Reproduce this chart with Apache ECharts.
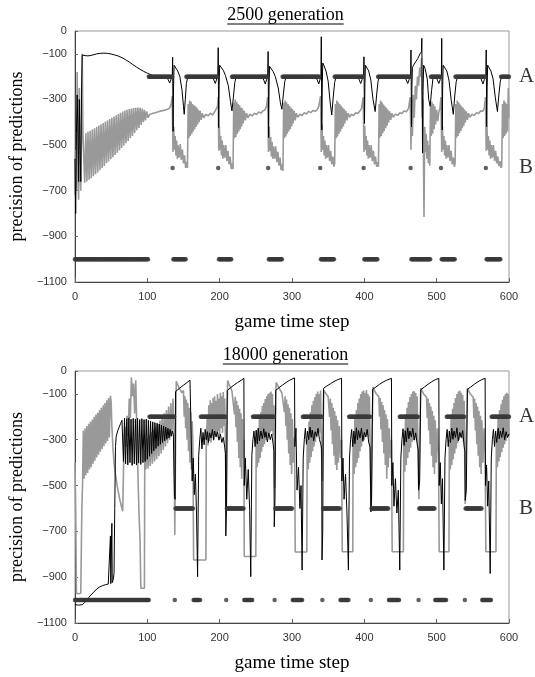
<!DOCTYPE html>
<html><head><meta charset="utf-8">
<script src="https://cdn.jsdelivr.net/npm/echarts@6/dist/echarts.min.js"></script>
<style>html,body{margin:0;padding:0;background:#fff}#c{width:535px;height:677px}</style>
</head><body><div id="c"></div>
<script>
// ---------------- DATA ----------------
const xTicks = [0, 100, 200, 300, 400, 500, 600];
const yTicks = [-1100, -900, -700, -500, -300, -100, 0];
const titles = ['2500 generation', '18000 generation'];
const xName = 'game time step';
const yName = 'precision of predictions';
const stateLevels = { A: -200, B: -600, C: -1000 };
const stateNames = [['A', -200], ['B', -600]];

// 2500 generation : black (thin) line [time step, value]
const blackTop = [
[0,-560],[1,-800],[2,-450],[3,-280],[4,-420],[5,-660],[6,-300],[7,-520],[8,-660],[9,-280],[10,-105],
[14,-108],[18,-109],[22,-107],[26,-104],[30,-100],[35,-98],[40,-97],[45,-98],[50,-101],[55,-105],[60,-110],[65,-117],[70,-126],[75,-136],[80,-147],[85,-158],[90,-168],[95,-177],[100,-185],[105,-192],[110,-198],[113,-200],
[127,-200],[129,-215],[131,-228],[133,-210],[134.5,-200],[135,-115],[135.6,-440],[136.2,-250],[137,-150],[139,-155],[142,-175],[145,-200],[148,-260],[150,-330],[151,-365],[152.5,-300],[154,-230],[156,-200],
[190,-200],[192,-215],[194,-230],[196,-210],[197.5,-200],[198,-73],[198.7,-423],[199.3,-240],[200,-150],[202,-155],[205,-172],[208,-195],[212,-240],[215,-310],[217,-350],[219,-290],[221,-225],[223,-200],
[259,-200],[261,-215],[263,-232],[265,-212],[266.5,-200],[267,-90],[267.7,-467],[268.3,-250],[269,-155],[271,-160],[274,-178],[277,-200],[281,-250],[284,-315],[286,-343],[288,-280],[290,-222],[292,-200],
[333,-200],[335,-215],[337,-232],[339,-210],[340,-200],[340.5,-25],[341.2,-434],[341.8,-250],[342.5,-140],[344,-150],[347,-175],[350,-220],[353,-320],[355,-368],[357,-290],[359,-225],[361,-200],
[391,-200],[393,-215],[395,-230],[397,-212],[399,-200],[399.5,-113],[400.2,-405],[400.8,-240],[401.5,-150],[403,-155],[406,-175],[409,-215],[412,-300],[415,-353],[417,-280],[419,-220],[421,-200],
[456,-200],[458,-215],[460,-230],[462,-212],[464,-200],[464.5,-83],[465.2,-420],[465.8,-240],[466.5,-160],[468,-150],[471,-135],[474,-120],[477,-100],[479,-90],[479.5,-32],[480.5,-535],[481.2,-260],[482,-150],[484,-165],[487,-210],[489,-300],[491,-330],[493,-260],[495,-205],[497,-200],
[499,-200],[501,-215],[503,-230],[505,-212],[506.5,-200],[507,-32],[507.7,-434],[508.3,-250],[509,-150],[511,-155],[514,-175],[517,-215],[520,-300],[523,-365],[525,-285],[527,-222],[529,-200],
[560,-200],[562,-215],[564,-232],[566,-212],[568,-200],[568.5,-83],[569.2,-419],[569.8,-245],[570.5,-150],[572,-155],[575,-175],[578,-210],[581,-290],[584,-353],[586,-280],[588,-220],[590,-200],[600,-200]
];

// 2500 generation : grey (thick) line
const grayTop = [
[0,-720],[1,-520],[2,-700],[3,-180],[4,-600],[5,-740],[6,-250],[7,-600],[8,-700],[9,-450],[10,-100],[11,-450],
[12,-455],[13.5,-665],[15,-448],[16.5,-660],[18,-442],[19.5,-652],[21,-437],[22.5,-645],[24,-432],[25.5,-636],[27,-426],[28.5,-628],[30,-420],[31.5,-620],[33,-414],[34.5,-610],[36,-409],[37.5,-600],[39,-403],[40.5,-591],[42,-398],[43.5,-580],[45,-392],[46.5,-572],[48,-386],[49.5,-562],[51,-380],[52.5,-553],[54,-375],[55.5,-543],[57,-369],[58.5,-533],[60,-364],[61.5,-523],[63,-358],[64.5,-513],[66,-353],[67.5,-503],[69,-348],[70.5,-492],[72,-345],[73.5,-482],[75,-342],[76.5,-470],[78,-340],[79.5,-460],[81,-338],[82.5,-447],[84,-336],[85.5,-435],[87,-335],[88.5,-425],[90,-336],[91.5,-412],[93,-340],[94.5,-400],[96,-345],[97.5,-392],[99,-352],
[101,-380],[103,-366],[105,-374],[107,-362],[109,-370],[111,-358],[113,-366],[115,-354],[117,-360],[119,-350],[121,-356],[123,-348],[125,-352],[127,-344],[129,-348],[131,-338],[133,-320],[134.5,-285],
[135.5,-530],[136.5,-420],[137.5,-520],[138.5,-460],[139.5,-545],[140.5,-480],[141.5,-560],[142.5,-500],[144,-555],[145.5,-495],[147,-565],[148.5,-520],[150,-580],[151.5,-545],[153,-600],[154.5,-575],[155.5,-600],[156.5,-320],[157.5,-470],[158.5,-305],[159.5,-460],[160.5,-310],[161.5,-450],[162.5,-320],[163.5,-440],[164.5,-325],[165.5,-430],[166.5,-330],[167.5,-420],[168.5,-335],[169.5,-410],[170.5,-345],[171.5,-400],[173,-350],[174.5,-390],[176,-360],[178,-380],[181,-365],[184,-372],[187,-360],[190,-368],[193,-355],[195,-350],[197,-330],[198,-290],
[198.8,-525],[199.6,-420],[200.5,-520],[201.5,-460],[202.5,-545],[203.5,-480],[204.5,-560],[205.5,-500],[207,-555],[208.5,-500],[210,-570],[211.5,-525],[213,-585],[214.5,-550],[216,-605],[217.5,-580],[218.5,-605],[219.5,-315],[220.5,-470],[221.5,-300],[222.5,-465],[223.5,-310],[224.5,-450],[225.5,-320],[226.5,-440],[227.5,-325],[228.5,-430],[229.5,-335],[230.5,-418],[231.5,-340],[232.5,-405],[234,-350],[235.5,-392],[237,-360],[239,-380],[242,-365],[245,-372],[248,-360],[251,-366],[254,-355],[257,-360],[260,-350],[263,-345],[265,-325],[266.5,-290],
[267.5,-530],[268.5,-420],[269.5,-525],[270.5,-465],[271.5,-550],[272.5,-485],[273.5,-560],[274.5,-505],[276,-560],[277.5,-505],[279,-575],[280.5,-530],[282,-590],[283.5,-555],[285,-610],[286.5,-585],[287.5,-613],[288.5,-315],[289.5,-470],[290.5,-305],[291.5,-462],[292.5,-312],[293.5,-450],[294.5,-320],[295.5,-440],[296.5,-328],[297.5,-430],[298.5,-335],[299.5,-418],[300.5,-342],[301.5,-405],[303,-350],[304.5,-392],[306,-360],[308,-378],[311,-365],[314,-370],[317,-358],[320,-364],[323,-352],[326,-358],[329,-348],[332,-352],[335,-345],[337,-330],[339.5,-285],
[340.5,-530],[341.5,-410],[342.5,-520],[343.5,-460],[344.5,-545],[345.5,-480],[346.5,-560],[347.5,-500],[349,-555],[350.5,-500],[352,-570],[353.5,-525],[355,-585],[356.5,-550],[358,-595],[359,-580],[360,-320],[361,-470],[362,-305],[363,-462],[364,-312],[365,-450],[366,-320],[367,-440],[368,-328],[369,-428],[370,-335],[371,-418],[372,-342],[373,-405],[374.5,-350],[376,-392],[377.5,-360],[379.5,-378],[382,-365],[385,-370],[388,-358],[391,-362],[394,-350],[396,-340],[398.5,-290],
[399.5,-530],[400.5,-415],[401.5,-520],[402.5,-460],[403.5,-545],[404.5,-480],[405.5,-560],[406.5,-500],[408,-555],[409.5,-500],[411,-570],[412.5,-525],[414,-585],[415.5,-550],[417,-595],[418.5,-575],[419.5,-595],[420.5,-320],[421.5,-468],[422.5,-305],[423.5,-460],[424.5,-312],[425.5,-448],[426.5,-322],[427.5,-438],[428.5,-330],[429.5,-426],[430.5,-336],[431.5,-415],[432.5,-344],[433.5,-402],[435,-352],[436.5,-390],[438,-360],[440,-378],[443,-364],[446,-370],[449,-358],[452,-362],[455,-350],[458,-354],[461,-340],[463.5,-290],
[464.5,-520],[465.5,-300],[466.5,-460],[467.5,-280],[469,-380],[470.5,-240],[472,-300],[473.5,-200],[475,-240],[476.5,-160],[478,-200],[479,-120],[480,-380],[481,-300],[482.5,-815],[483.5,-420],[484.5,-530],[485.5,-450],[486.5,-560],[487.5,-480],[488.5,-580],[489.5,-500],[490.5,-590],[491.5,-330],[492.5,-460],[493.5,-310],[494.5,-450],[495.5,-320],[496.5,-430],[497.5,-330],[498.5,-410],[500,-345],[501.5,-395],[503,-355],[504.5,-340],[506,-290],
[507,-530],[508,-420],[509,-520],[510,-460],[511,-545],[512,-480],[513,-560],[514,-500],[515.5,-555],[517,-500],[518.5,-570],[520,-525],[521.5,-585],[523,-555],[524.5,-595],[525.5,-580],[526.5,-320],[527.5,-468],[528.5,-305],[529.5,-460],[530.5,-312],[531.5,-448],[532.5,-322],[533.5,-438],[534.5,-330],[535.5,-426],[536.5,-336],[537.5,-415],[538.5,-344],[539.5,-402],[541,-352],[542.5,-390],[544,-360],[546,-378],[549,-364],[552,-370],[555,-358],[558,-362],[561,-350],[564,-352],[566,-335],[567.5,-290],
[568.5,-525],[569.5,-415],[570.5,-520],[571.5,-460],[572.5,-545],[573.5,-480],[574.5,-560],[575.5,-500],[577,-555],[578.5,-500],[580,-570],[581.5,-525],[583,-580],[584.5,-550],[586,-592],[587.5,-570],[589,-600],[590,-590],[591,-320],[592,-470],[593,-305],[594,-460],[595,-312],[596,-450],[597,-320],[598,-440],[599,-250],[600,-380]
];

// 2500 generation : state dots as runs [first step, last step, state]
const runsTop = [
[0,101,'C'],[102,134,'A'],[135,135,'B'],[136,153,'C'],[154,197,'A'],[198,198,'B'],[199,216,'C'],[217,266,'A'],[267,267,'B'],[268,286,'C'],
[287,338,'A'],[339,339,'B'],[340,358,'C'],[359,398,'A'],[399,399,'B'],[400,418,'C'],[419,463,'A'],[464,464,'B'],[465,491,'C'],[492,505,'A'],
[506,506,'B'],[507,525,'C'],[526,567,'A'],[568,568,'B'],[569,588,'C'],[589,600,'A']
];

// 18000 generation : black (thin) line
const blackBot = [
[0,-1020],[5,-1022],[10,-1020],[13,-1012],[16,-1000],[19,-988],[22,-978],[26,-965],[30,-952],[34,-943],[38,-937],[42,-933],[46,-930],[48.5,-928],[49,-720],[49.5,-928],[50.5,-926],[51,-665],[51.5,-924],[53,-910],[54,-880],[55,-600],[56,-330],[57,-285],[59,-262],[61,-245],[63,-230],[65,-215],[66,-208],
[67,-395],[68.5,-206],[70,-405],[71.5,-208],[73,-410],[74.5,-205],[76,-400],[77.5,-210],[79,-412],[80.5,-207],[82,-405],[83.5,-210],[85,-410],[86.5,-206],[88,-402],[89.5,-212],[91,-408],[92.5,-208],[94,-400],[95.5,-212],[97,-395],[98.5,-210],[100,-385],[101.5,-215],[103,-372],[104.5,-218],[106,-360],[107.5,-222],[109,-348],[110.5,-225],[112,-338],[113.5,-228],[115,-328],[116.5,-232],[118,-320],[119.5,-236],[121,-312],[122.5,-240],[124,-305],[125.5,-245],[127,-298],[128.5,-250],[130,-292],[131.5,-255],[133,-285],[134.5,-262],[136,-278],[137,-272],
[137.5,-548],[138.5,-560],[139,-90],[141,-84],[145,-74],[150,-62],[155,-50],[159,-40],[161.5,-32],[162,-480],[163.5,-380],[165,-540],[166.5,-450],[168,-620],[169.5,-898],[171,-370],[172.5,-300],
[174,-250],[175.5,-340],[177,-268],[178.5,-322],[180,-255],[181.5,-300],[183,-265],[184.5,-312],[186,-270],[188,-292],[190,-255],[191.5,-302],[193,-262],[195,-287],[197,-265],[199,-302],[201,-276],[203,-312],[205,-290],[207,-332],[208,-360],
[208.5,-720],[209.5,-600],[210.5,-85],[215,-73],[220,-61],[225,-50],[230,-40],[233.5,-32],[234,-500],[235.5,-380],[237.5,-560],[239.5,-430],[241.5,-610],[243,-898],[244.5,-370],[246,-300],
[247.5,-262],[249,-330],[250.5,-258],[252,-318],[253.5,-250],[255,-305],[257,-262],[259,-296],[261,-252],[262.5,-290],[264,-265],[266,-310],[268,-270],[270,-300],[272,-275],[274,-320],[275,-350],
[275.5,-680],[276.5,-560],[277.5,-85],[282,-73],[287,-61],[292,-50],[297,-40],[303.5,-30],[304,-330],[305.5,-250],[307,-520],[309,-420],[311,-600],[312.5,-500],[314,-869],[315.5,-380],[317,-300],
[318.5,-250],[320,-320],[321.5,-262],[323,-300],[325,-245],[326.5,-290],[328,-258],[330,-305],[332,-265],[334,-285],[336,-250],[338,-300],[340,-320],[341,-340],
[341.5,-825],[342.5,-700],[343.5,-76],[348,-66],[353,-56],[358,-46],[363,-38],[368.5,-32],[369,-480],[370.5,-380],[372,-560],[374,-450],[376,-620],[378,-869],[379.5,-380],[381,-300],
[382.5,-255],[384,-330],[385.5,-262],[387,-318],[389,-248],[390.5,-300],[392,-260],[394,-292],[396,-250],[398,-305],[400,-268],[402,-288],[404,-255],[406,-310],[408,-335],
[409,-614],[410,-560],[411.5,-80],[416,-70],[421,-58],[426,-48],[431,-40],[437.5,-32],[438,-500],[439.5,-400],[441,-590],[443,-470],[445,-620],[447,-520],[449,-869],[450.5,-380],[452,-300],
[453.5,-252],[455,-325],[456.5,-260],[458,-310],[460,-248],[461.5,-296],[463,-262],[465,-288],[467,-250],[469,-302],[471,-270],[473,-318],[474.5,-345],
[475,-520],[476.5,-480],[478,-82],[483,-70],[488,-58],[493,-47],[498,-38],[503,-32],[503.5,-500],[505,-400],[506.5,-580],[508,-470],[510,-869],[511.5,-380],[513,-300],
[514.5,-255],[516,-330],[517.5,-262],[519,-312],[521,-250],[522.5,-298],[524,-262],[526,-290],[528,-248],[530,-305],[532,-268],[534,-290],[536,-260],[538,-330],[539,-350],
[539.5,-565],[541,-520],[542.5,-80],[547,-70],[552,-58],[557,-47],[562,-38],[567,-32],[567.5,-500],[569,-410],[570.5,-590],[572,-480],[574,-884],[575.5,-380],[577,-300],
[578.5,-255],[580,-330],[581.5,-262],[583,-312],[585,-250],[586.5,-296],[588,-262],[590,-290],[592,-248],[594,-300],[596,-265],[598,-290],[600,-275]
];

// 18000 generation : grey (thick) line
const grayBot = [
[0,-400],[1,-600],[2,-970],[5,-972],[8,-970],[9.5,-600],[10.5,-490],
[11.5,-260],[12.5,-470],[14,-250],[15,-455],[16.5,-240],[17.5,-445],[19,-230],[20,-430],[21.5,-222],[22.5,-420],[24,-212],[25,-405],[26.5,-200],[27.5,-392],[29,-190],[30,-378],[31.5,-182],[32.5,-365],[34,-170],[35,-352],[36.5,-160],[37.5,-340],[39,-150],[40,-328],[41.5,-140],[42.5,-316],[44,-128],[45,-305],[46.5,-118],[47.5,-290],[49,-108],[50,-135],
[51,-240],[52.5,-335],[54,-400],[56,-452],[58,-495],[60,-530],[62,-562],[64,-588],[66,-612],[67,-450],[68,-300],[69,-245],[70.5,-330],[72,-195],[73.5,-285],[75,-120],[76.5,-205],[78,-28],[79.5,-110],[81,-55],[82.5,-185],[84,-40],[85.5,-250],[87,-450],[88.5,-620],[90,-740],[91,-948],[93.5,-950],[96,-948],[96.5,-345],
[98,-430],[99.5,-292],[101,-425],[102.5,-280],[104,-415],[105.5,-268],[107,-405],[108.5,-255],[110,-395],[111.5,-242],[113,-385],[114.5,-230],[116,-372],[117.5,-215],[119,-360],[120.5,-200],[122,-345],[123.5,-185],[125,-330],[126.5,-170],[128,-315],[129.5,-155],[131,-300],[132.5,-140],[134,-280],[135.5,-120],[137,-250],
[138,-716],[139,-320],[140,-45],[142,-60],[144,-75],[146,-68],[148,-95],[150,-85],[151,-200],[152,-110],[153,-250],[154,-125],[155,-300],[156,-140],[157,-350],[158,-160],[159,-400],[160,-180],[161,-430],[162,-220],[163,-320],[164,-825],[181,-825],[181.5,-300],
[183,-200],[184,-325],[185,-150],[186,-305],[187,-128],[188,-312],[189,-140],[190,-282],[191,-118],[192,-300],[193,-110],[194,-272],[195,-130],[196,-290],[197,-100],[198,-262],[199,-120],[200,-280],[201,-95],[202,-250],[203,-110],[204,-270],[205,-92],[206,-240],[207,-120],[208,-300],
[209,-607],[210,-300],[211,-42],[213,-58],[215,-72],[217,-88],[219,-84],[220.5,-190],[221.5,-112],[222.5,-245],[223.5,-130],[224.5,-310],[225.5,-150],[226.5,-380],[227.5,-165],[228.5,-420],[229.5,-185],[230.5,-470],[231.5,-210],[232.5,-380],[233.5,-300],[234,-810],[250,-810],[250.5,-290],
[252,-420],[253,-250],[254,-400],[255,-205],[256,-380],[257,-180],[258,-352],[259,-152],[260,-332],[261,-140],[262,-320],[263,-122],[264,-302],[265,-110],[266,-290],[267,-100],[268,-282],[269,-95],[270,-268],[271,-90],[272,-262],[273,-100],[274,-280],[275,-150],
[276,-512],[277,-260],[278,-50],[280,-62],[282,-75],[284,-70],[286,-95],[288,-88],[289.5,-180],[290.5,-110],[291.5,-240],[292.5,-125],[293.5,-300],[294.5,-145],[295.5,-360],[296.5,-160],[297.5,-410],[298.5,-185],[299.5,-450],[300.5,-210],[302,-400],[303.5,-290],[304.5,-790],[320.5,-790],[321,-300],
[322.5,-430],[323.5,-220],[324.5,-400],[325.5,-180],[326.5,-375],[327.5,-150],[328.5,-350],[329.5,-130],[330.5,-330],[331.5,-115],[332.5,-310],[333.5,-100],[334.5,-290],[335.5,-90],[336.5,-280],[337.5,-100],[338.5,-270],[339.5,-85],[340.5,-300],
[342,-480],[343,-250],[344,-83],[346,-95],[348,-90],[350,-112],[351,-105],[352,-200],[353,-120],[354,-260],[355,-140],[356,-320],[357,-160],[358,-370],[359,-175],[360,-410],[361,-195],[362,-432],[363,-215],[364,-400],[365.5,-240],[367,-380],[368.5,-300],[369.5,-789],[384,-789],[384.5,-300],
[386,-450],[387,-200],[388,-420],[389,-170],[390,-400],[391,-140],[392,-380],[393,-120],[394,-350],[395,-100],[396,-330],[397,-90],[398,-310],[399,-85],[400,-300],[401,-95],[402,-285],[403,-83],[404,-280],[405,-100],[406,-290],[407,-110],[408,-320],
[409.5,-614],[410.5,-300],[412,-70],[414,-85],[416,-98],[418,-92],[420,-112],[421,-200],[422,-118],[423,-255],[424,-135],[425,-310],[426,-150],[427,-360],[428,-170],[429,-410],[430,-190],[431,-470],[432,-210],[433,-420],[434.5,-250],[436,-380],[437.5,-300],[438.5,-789],[454,-789],[454.5,-300],
[456,-440],[457,-190],[458,-410],[459,-160],[460,-380],[461,-135],[462,-355],[463,-115],[464,-335],[465,-100],[466,-310],[467,-90],[468,-300],[469,-88],[470,-290],[471,-95],[472,-300],[473,-110],[474,-330],
[475.5,-560],[476.5,-300],[478,-75],[480,-88],[482,-100],[484,-95],[486,-115],[487,-205],[488,-120],[489,-260],[490,-140],[491,-320],[492,-155],[493,-370],[494,-175],[495,-420],[496,-195],[497,-450],[498,-215],[499.5,-400],[501,-250],[502.5,-360],[503.5,-789],[517,-789],[517.5,-300],
[519,-430],[520,-200],[521,-410],[522,-165],[523,-385],[524,-140],[525,-360],[526,-118],[527,-338],[528,-100],[529,-315],[530,-90],[531,-300],[532,-85],[533,-290],[534,-95],[535,-295],[536,-105],[537,-310],[538,-130],
[539.5,-580],[541,-290],[542.5,-75],[544.5,-88],[546.5,-100],[548.5,-95],[550.5,-115],[551.5,-205],[552.5,-120],[553.5,-260],[554.5,-140],[555.5,-320],[556.5,-155],[557.5,-370],[558.5,-175],[559.5,-420],[560.5,-195],[561.5,-450],[562.5,-215],[564,-400],[565.5,-250],[567,-360],[568,-789],[582,-789],[582.5,-300],
[584,-420],[585,-200],[586,-395],[587,-170],[588,-375],[589,-145],[590,-355],[591,-125],[592,-335],[593,-110],[594,-320],[595,-100],[596,-305],[597,-95],[598,-290],[599,-100],[600,-280]
];

// 18000 generation : state dots as runs
const runsBot = [
[0,102,'C'],[103,137,'A'],[138,138,'C'],[139,163,'B'],[164,173,'C'],[174,208,'A'],[209,209,'C'],[210,233,'B'],[234,245,'C'],[246,275,'A'],
[276,276,'C'],[277,300,'B'],[301,314,'C'],[315,341,'A'],[342,342,'C'],[343,366,'B'],[367,378,'C'],[379,408,'A'],[409,409,'C'],[410,433,'B'],
[434,448,'C'],[449,474,'A'],[475,475,'C'],[476,497,'B'],[498,513,'C'],[514,538,'A'],[539,539,'C'],[540,562,'B'],[563,575,'C'],[576,600,'A']
];

// ---------------- CHART ----------------
function decodeRuns(runs) {
  const out = [];
  runs.forEach(([a, b, s]) => { for (let t = a; t <= b; t++) out.push([t, stateLevels[s]]); });
  return out;
}
const SERIF = '"Liberation Serif","Times New Roman",serif';
const SANS = '"Liberation Sans",Arial,sans-serif';
const GRIDS = [{ left: 74, top: 31, width: 435, height: 251 }, { left: 74, top: 371, width: 435, height: 252 }];

function textWidth(txt, font) {
  const c = document.createElement('canvas').getContext('2d');
  c.font = font; return c.measureText(txt).width;
}

const chart = echarts.init(document.getElementById('c'), null, { renderer: 'canvas' });
const grid = GRIDS.map(g => Object.assign({ show: true, borderColor: '#999', borderWidth: 1, backgroundColor: 'transparent' }, g));
const xAxis = GRIDS.map((g, i) => ({
  type: 'value', gridIndex: i, min: xTicks[0], max: xTicks[xTicks.length - 1], interval: xTicks[1] - xTicks[0],
  name: xName, nameLocation: 'middle', nameGap: 31,
  nameTextStyle: { fontFamily: SERIF, fontSize: 19, color: '#000' },
  axisLine: { show: true, onZero: false, lineStyle: { color: '#444', width: 1 } },
  axisTick: { show: true, inside: true, length: 4, lineStyle: { color: '#666' } },
  axisLabel: { margin: 9, fontFamily: SANS, fontSize: 11, color: '#333' },
  splitLine: { show: false }
}));
const yAxis = GRIDS.map((g, i) => ({
  type: 'value', gridIndex: i, min: yTicks[0], max: yTicks[yTicks.length - 1], interval: yTicks[1] - yTicks[0],
  name: yName, nameLocation: 'middle', nameGap: 43, nameRotate: 90,
  nameTextStyle: { fontFamily: SERIF, fontSize: 18, color: '#000' },
  axisLine: { show: true, onZero: false, lineStyle: { color: '#444', width: 1 } },
  axisTick: { show: true, inside: true, length: 3, lineStyle: { color: '#666' } },
  axisLabel: { margin: 8, fontFamily: SANS, fontSize: 11, color: '#333', formatter: v => String(v).replace('-', '\u2212') },
  splitLine: { show: false }
}));

const datasets = [
  { gray: grayTop, black: blackTop, dots: decodeRuns(runsTop) },
  { gray: grayBot, black: blackBot, dots: decodeRuns(runsBot) }
];
const series = [];
datasets.forEach((d, i) => {
  series.push({ type: 'line', xAxisIndex: i, yAxisIndex: i, data: d.gray, symbol: 'none', showSymbol: false,
    lineStyle: { color: '#999', width: 1.6 }, z: 2, silent: true, animation: false });
  series.push({ type: 'line', xAxisIndex: i, yAxisIndex: i, data: d.black, symbol: 'none', showSymbol: false,
    lineStyle: { color: '#000', width: 1 }, z: 3, silent: true, animation: false });
  series.push({ type: 'scatter', xAxisIndex: i, yAxisIndex: i, data: d.dots, symbol: 'circle', symbolSize: 4.5,
    itemStyle: { color: '#3a3a3a' }, z: 4, silent: true, animation: false });
  series.push({ type: 'scatter', xAxisIndex: i, yAxisIndex: i, clip: false, silent: true, animation: false,
    data: stateNames.map(([n, v]) => [xTicks[xTicks.length - 1], v, n]), symbolSize: 0,
    label: { show: true, position: 'right', distance: 10, formatter: p => p.value[2], fontFamily: SERIF, fontSize: 21, color: '#000' } });
});

const graphic = [];
GRIDS.forEach((g, i) => {
  const cx = g.left + g.width / 2 - 6;
  const cy = g.top - 16;
  const font = '18px ' + SERIF;
  const w = textWidth(titles[i], font);
  graphic.push({ type: 'text', x: cx, y: cy, silent: true,
    style: { text: titles[i], font: font, fill: '#000', align: 'center', verticalAlign: 'middle' } });
  graphic.push({ type: 'line', silent: true, shape: { x1: cx - w / 2, y1: cy + 9, x2: cx + w / 2, y2: cy + 9 },
    style: { stroke: '#000', lineWidth: 1 } });
});

chart.setOption({ animation: false, backgroundColor: '#fff', grid, xAxis, yAxis, series, graphic });
</script></body></html>
